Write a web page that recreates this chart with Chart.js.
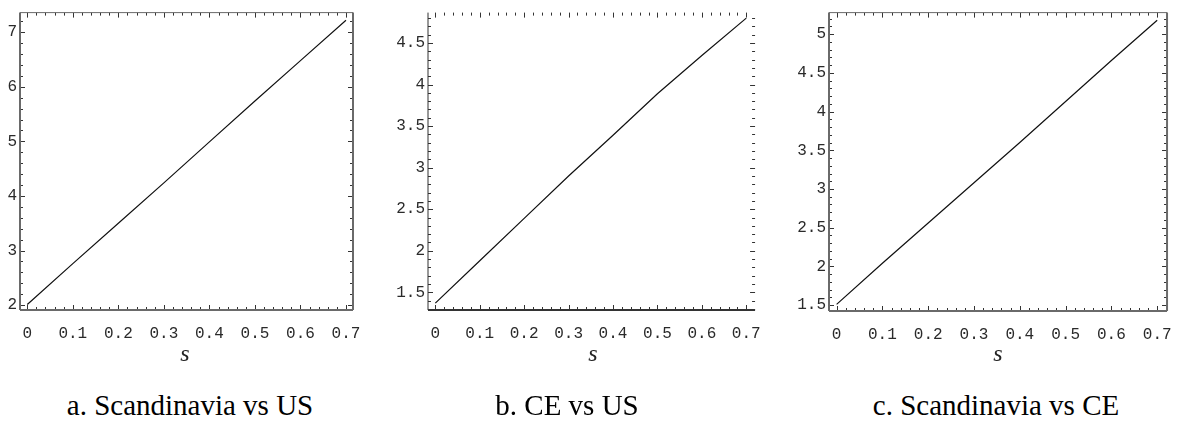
<!DOCTYPE html>
<html>
<head>
<meta charset="utf-8">
<script src="https://cdn.jsdelivr.net/npm/chart.js@4.4.0/dist/chart.umd.min.js"></script>
<style>
  body { margin: 0; background: #fff; width: 1186px; height: 421px; position: relative; overflow: hidden; }
  .panel { position: absolute; top: 0; }
  .sLabel { position: absolute; top: 341px; font: italic 24px "Liberation Serif"; line-height: 24px; color: #222; transform: translateX(-50%); }
  .caption { position: absolute; top: 391px; font: 29px "Liberation Serif"; line-height: 29px; color: #000; transform: translateX(-50%); white-space: nowrap; }
</style>
</head>
<body>

<canvas id="chartA" class="panel" style="left:0px"></canvas>
<canvas id="chartB" class="panel" style="left:390px"></canvas>
<canvas id="chartC" class="panel" style="left:790px"></canvas>

<div class="sLabel" style="left:185px">s</div>
<div class="sLabel" style="left:593px">s</div>
<div class="sLabel" style="left:998px">s</div>

<div class="caption" id="capA" style="left:190px"></div>
<div class="caption" id="capB" style="left:567px"></div>
<div class="caption" id="capC" style="left:996px"></div>

<script>
// DATA

const sValues = [0, 0.1, 0.2, 0.3, 0.4, 0.5, 0.6, 0.7];
const xTickLabels = ["0", "0.1", "0.2", "0.3", "0.4", "0.5", "0.6", "0.7"];

const scandVsUS = [2.01, 2.76, 3.50, 4.24, 4.99, 5.74, 6.48, 7.22];
const ceVsUS = [1.37, 1.88, 2.39, 2.90, 3.39, 3.89, 4.35, 4.80];
const scandVsCE = [1.51, 2.04, 2.56, 3.08, 3.60, 4.13, 4.66, 5.18];

const yTicksA = [2, 3, 4, 5, 6, 7];
const yTickLabelsA = ["2", "3", "4", "5", "6", "7"];
const yTicksB = [1.5, 2, 2.5, 3, 3.5, 4, 4.5];
const yTickLabelsB = ["1.5", "2", "2.5", "3", "3.5", "4", "4.5"];
const yTicksC = [1.5, 2, 2.5, 3, 3.5, 4, 4.5, 5];
const yTickLabelsC = ["1.5", "2", "2.5", "3", "3.5", "4", "4.5", "5"];

const captions = ["a. Scandinavia vs US", "b. CE vs US", "c. Scandinavia vs CE"];

document.getElementById("capA").innerText = captions[0];
document.getElementById("capB").innerText = captions[1];
document.getElementById("capC").innerText = captions[2];

Chart.defaults.font.family = "Liberation Mono";
Chart.defaults.font.size = 16;
Chart.defaults.color = "#2a2a2a";

// frame with inward ticks on all four sides
const frameTicks = {
  id: 'frameTicks',
  afterDraw(chart, args, opts) {
    const { ctx, chartArea: a, scales: { x, y } } = chart;
    ctx.save();
    ctx.strokeStyle = '#333';
    ctx.lineWidth = 1;

    const tick = (x1, y1, x2, y2) => {
      ctx.beginPath();
      ctx.moveTo(x1, y1);
      ctx.lineTo(x2, y2);
      ctx.stroke();
    };

    // x ticks
    for (let i = 0; i <= 35; i++) {
      const v = i * 0.02;
      const px = Math.round(x.getPixelForValue(v)) + 0.5;
      const len = i % 5 === 0 ? 5 : 3;
      tick(px, a.bottom, px, a.bottom - len);
      tick(px, a.top, px, a.top + len);
    }

    // y ticks
    const step = opts.yMinor;
    const start = Math.ceil(y.min / step);
    const end = Math.floor(y.max / step);
    for (let i = start; i <= end; i++) {
      const v = i * step;
      const py = Math.round(y.getPixelForValue(v)) + 0.5;
      const major = Math.abs(v / opts.yMajor - Math.round(v / opts.yMajor)) < 1e-6;
      const len = major ? 5 : 3;
      tick(a.left, py, a.left + len, py);
      tick(a.right, py, a.right - len, py);
    }

    // frame
    ctx.strokeStyle = opts.frameColor;
    opts.sides.forEach(side => {
      ctx.lineWidth = side.w;
      if (side.s === 'left') tick(a.left, a.top, a.left, a.bottom);
      if (side.s === 'right') tick(a.right, a.top, a.right, a.bottom);
      if (side.s === 'top') tick(a.left, a.top, a.right, a.top);
      if (side.s === 'bottom') tick(a.left, a.bottom, a.right, a.bottom);
    });
    ctx.restore();
  }
};

function makePanel(id, values, width, cfg) {
  const canvas = document.getElementById(id);
  canvas.width = width;
  canvas.height = 345;
  canvas.style.width = width + 'px';
  canvas.style.height = '345px';

  new Chart(canvas, {
    type: 'line',
    data: {
      datasets: [{
        data: sValues.map((s, i) => ({ x: s, y: values[i] })),
        borderColor: '#111',
        borderWidth: 1.2,
        pointRadius: 0,
        tension: 0
      }]
    },
    options: {
      responsive: false,
      animation: false,
      layout: { padding: { top: 7, right: cfg.rightPad, left: 0, bottom: 0 } },
      plugins: {
        legend: { display: false },
        tooltip: { enabled: false },
        frameTicks: cfg.frame
      },
      scales: {
        x: {
          type: 'linear',
          min: cfg.xMin,
          max: cfg.xMax,
          grid: { display: false, drawTicks: false },
          border: { display: false },
          ticks: {
            padding: 14,
            maxRotation: 0,
            callback: v => xTickLabels[sValues.indexOf(v)]
          },
          afterBuildTicks: scale => { scale.ticks = sValues.map(v => ({ value: v })); },
          afterFit: scale => { scale.height = 345 - cfg.bottom; }
        },
        y: {
          type: 'linear',
          min: cfg.yMin,
          max: cfg.yMax,
          grid: { display: false, drawTicks: false },
          border: { display: false },
          ticks: {
            padding: 3,
            callback: v => cfg.yLabels[cfg.yTicks.indexOf(v)]
          },
          afterBuildTicks: scale => { scale.ticks = cfg.yTicks.map(v => ({ value: v })); },
          afterFit: scale => { scale.width = cfg.leftW; }
        }
      }
    },
    plugins: [frameTicks]
  });
}

// a. Scandinavia vs US
makePanel('chartA', scandVsUS, 375, {
  xMin: -0.016, xMax: 0.7154,
  yMin: 1.91, yMax: 7.36,
  yTicks: yTicksA, yLabels: yTickLabelsA,
  leftW: 20, rightPad: 22, bottom: 310,
  frame: {
    yMinor: 0.2, yMajor: 1, frameColor: '#6a6a6a',
    sides: [{ s: 'left', w: 2 }, { s: 'bottom', w: 2 }, { s: 'right', w: 2 }, { s: 'top', w: 1 }]
  }
});

// b. CE vs US
makePanel('chartB', ceVsUS, 385, {
  xMin: -0.0165, xMax: 0.7198,
  yMin: 1.287, yMax: 4.866,
  yTicks: yTicksB, yLabels: yTickLabelsB,
  leftW: 38, rightPad: 12, bottom: 310,
  frame: {
    yMinor: 0.1, yMajor: 0.5, frameColor: '#333',
    sides: [{ s: 'left', w: 1 }, { s: 'bottom', w: 2 }]
  }
});

// c. Scandinavia vs CE
makePanel('chartC', scandVsCE, 396, {
  xMin: -0.0166, xMax: 0.7215,
  yMin: 1.424, yMax: 5.279,
  yTicks: yTicksC, yLabels: yTickLabelsC,
  leftW: 39, rightPad: 14, bottom: 311,
  frame: {
    yMinor: 0.1, yMajor: 0.5, frameColor: '#6a6a6a',
    sides: [{ s: 'left', w: 2 }, { s: 'bottom', w: 2 }, { s: 'right', w: 2 }, { s: 'top', w: 1 }]
  }
});
</script>
</body>
</html>
